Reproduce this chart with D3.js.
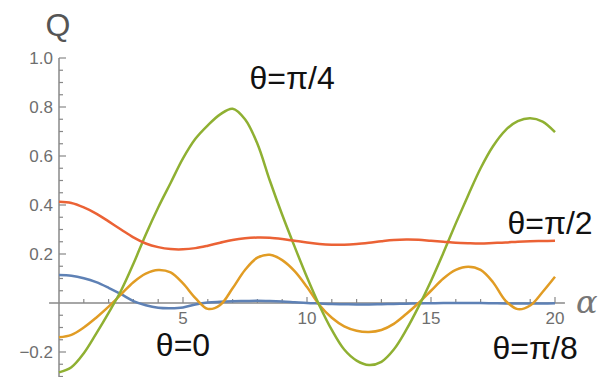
<!DOCTYPE html>
<html>
<head>
<meta charset="utf-8">
<script src="https://cdn.jsdelivr.net/npm/d3@7"></script>
<style>
	body { margin: 0; background: #fff; }
	#chart { width: 603px; height: 377px; }
	.tickLabel { font-family: "Liberation Sans", Arial, sans-serif; font-size: 17px; fill: #6e6e6e; }
	.note { font-family: "Liberation Sans", Arial, sans-serif; font-size: 32px; fill: #111; }
</style>
</head>
<body>
<div id="chart"></div>
<script>
// alpha values, step 0.5
var alphas = [0, 0.5, 1, 1.5, 2, 2.5, 3, 3.5, 4, 4.5, 5, 5.5, 6, 6.5, 7, 7.5, 8, 8.5, 9, 9.5,
	10, 10.5, 11, 11.5, 12, 12.5, 13, 13.5, 14, 14.5, 15, 15.5, 16, 16.5, 17, 17.5, 18, 18.5, 19, 19.5, 20];

// theta = 0
var q0 = [0.114, 0.111, 0.101, 0.085, 0.062, 0.036, 0.008, -0.009, -0.019, -0.021, -0.018, -0.006, 0.002, 0.005, 0.007, 0.008, 0.009, 0.008, 0.006, 0.003,
	0.0, -0.002, -0.004, -0.005, -0.006, -0.006, -0.005, -0.004, -0.003, -0.002, -0.001, 0.0, 0.0, 0.0, 0.0, -0.001, -0.002, -0.002, -0.002, -0.002, -0.001];
// theta = pi/8
var q8 = [-0.14, -0.13, -0.1, -0.06, -0.015, 0.035, 0.085, 0.12, 0.135, 0.125, 0.08, 0.02, -0.024, -0.008, 0.06, 0.135, 0.185, 0.197, 0.175, 0.13,
	0.065, -0.008, -0.06, -0.095, -0.113, -0.118, -0.11, -0.085, -0.045, 0.0, 0.05, 0.1, 0.135, 0.148, 0.135, 0.085, 0.01, -0.025, -0.01, 0.045, 0.107];
// theta = pi/4
var q4 = [-0.283, -0.262, -0.205, -0.125, -0.04, 0.05, 0.16, 0.28, 0.39, 0.49, 0.59, 0.67, 0.725, 0.77, 0.793, 0.75, 0.65, 0.5, 0.36, 0.23,
	0.105, -0.01, -0.11, -0.19, -0.235, -0.253, -0.24, -0.19, -0.11, -0.015, 0.09, 0.205, 0.325, 0.44, 0.55, 0.64, 0.705, 0.742, 0.754, 0.74, 0.697];
// theta = pi/2
var q2 = [0.413, 0.408, 0.39, 0.365, 0.333, 0.3, 0.268, 0.243, 0.228, 0.22, 0.219, 0.224, 0.234, 0.246, 0.257, 0.264, 0.267, 0.266, 0.261, 0.254,
	0.247, 0.241, 0.238, 0.238, 0.241, 0.246, 0.252, 0.257, 0.259, 0.258, 0.254, 0.25, 0.246, 0.244, 0.243, 0.245, 0.247, 0.25, 0.252, 0.253, 0.254];

var seriesNames = ["θ=0", "θ=π/8", "θ=π/4", "θ=π/2"];
var seriesColors = ["#5e81b5", "#e19c24", "#8fb032", "#eb6235"];

var xTickValues = [5, 10, 15, 20];
var yTickValues = [-0.2, 0.2, 0.4, 0.6, 0.8, 1.0];

// label anchors in data units
var labelPos = [[5, -0.218], [19.2, -0.228], [9.4, 0.875], [19.8, 0.28]];

drawChart([q0, q8, q4, q2], "chart");

function drawChart(series, container){
	var width = 603, height = 377;
	var svg = d3.select("#" + container).append("svg")
		.attr("width", width)
		.attr("height", height);

	var x = d3.scaleLinear().domain([0, 20]).range([59, 555]);
	var y = d3.scaleLinear().domain([-0.3, 1.0]).range([376.5, 58]);

	var axisG = svg.append("g");
	var axisColor = "#888";

	// x axis line, runs a bit past the plot range
	axisG.append("line")
		.attr("x1", x(-0.4)).attr("x2", x(20.4))
		.attr("y1", y(0)).attr("y2", y(0))
		.attr("stroke", axisColor).attr("stroke-width", 1.5);
	axisG.append("line")
		.attr("x1", x(0)).attr("x2", x(0))
		.attr("y1", y(1.0)).attr("y2", height)
		.attr("stroke", axisColor).attr("stroke-width", 1.5);

	// minor + major ticks
	var xt = d3.range(1, 21);
	axisG.selectAll(".xtick").data(xt).enter().append("line")
		.attr("x1", function(d){ return x(d); })
		.attr("x2", function(d){ return x(d); })
		.attr("y1", y(0))
		.attr("y2", function(d){ return y(0) - (d % 5 == 0 ? 6 : 4); })
		.attr("stroke", axisColor).attr("stroke-width", 1.2);

	var yt = d3.range(-6, 21).map(function(d){ return d * 0.05; }).filter(function(d){ return Math.abs(d) > 1e-9; });
	axisG.selectAll(".ytick").data(yt).enter().append("line")
		.attr("x1", x(0))
		.attr("x2", function(d){ return x(0) + (Math.round(d * 20) % 4 == 0 ? 7 : 4); })
		.attr("y1", function(d){ return y(d); })
		.attr("y2", function(d){ return y(d); })
		.attr("stroke", axisColor).attr("stroke-width", 1.2);

	axisG.selectAll(".xlab").data(xTickValues).enter().append("text")
		.attr("class", "tickLabel")
		.attr("x", function(d){ return x(d); })
		.attr("y", y(0) + 21)
		.attr("text-anchor", "middle")
		.text(function(d){ return d; });

	axisG.selectAll(".ylab").data(yTickValues).enter().append("text")
		.attr("class", "tickLabel")
		.attr("x", x(0) - 6)
		.attr("y", function(d){ return y(d) + 6; })
		.attr("text-anchor", "end")
		.text(function(d){ return d < 0 ? "\u2212" + Math.abs(d).toFixed(1) : d.toFixed(1); });

	svg.append("text")
		.attr("x", 58).attr("y", 36)
		.attr("text-anchor", "middle")
		.style("font-family", "'Liberation Sans', Arial, sans-serif")
		.style("font-size", "32px")
		.style("fill", "#555")
		.text("Q");

	svg.append("text")
		.attr("x", 576).attr("y", 313)
		.style("font-family", "'DejaVu Serif', serif")
		.style("font-style", "italic")
		.style("font-size", "32px")
		.style("fill", "#777")
		.text("α");

	var line = d3.line()
		.x(function(d, i){ return x(alphas[i]); })
		.y(function(d){ return y(d); })
		.curve(d3.curveCatmullRom.alpha(0.5));

	svg.selectAll(".curve").data(series).enter().append("path")
		.attr("d", function(d){ return line(d); })
		.attr("fill", "none")
		.attr("stroke", function(d, i){ return seriesColors[i]; })
		.attr("stroke-width", 2.5);

	svg.selectAll(".note").data(seriesNames).enter().append("text")
		.attr("class", "note")
		.attr("x", function(d, i){ return x(labelPos[i][0]); })
		.attr("y", function(d, i){ return y(labelPos[i][1]); })
		.attr("text-anchor", "middle")
		.text(function(d){ return d; });
}
</script>
</body>
</html>
